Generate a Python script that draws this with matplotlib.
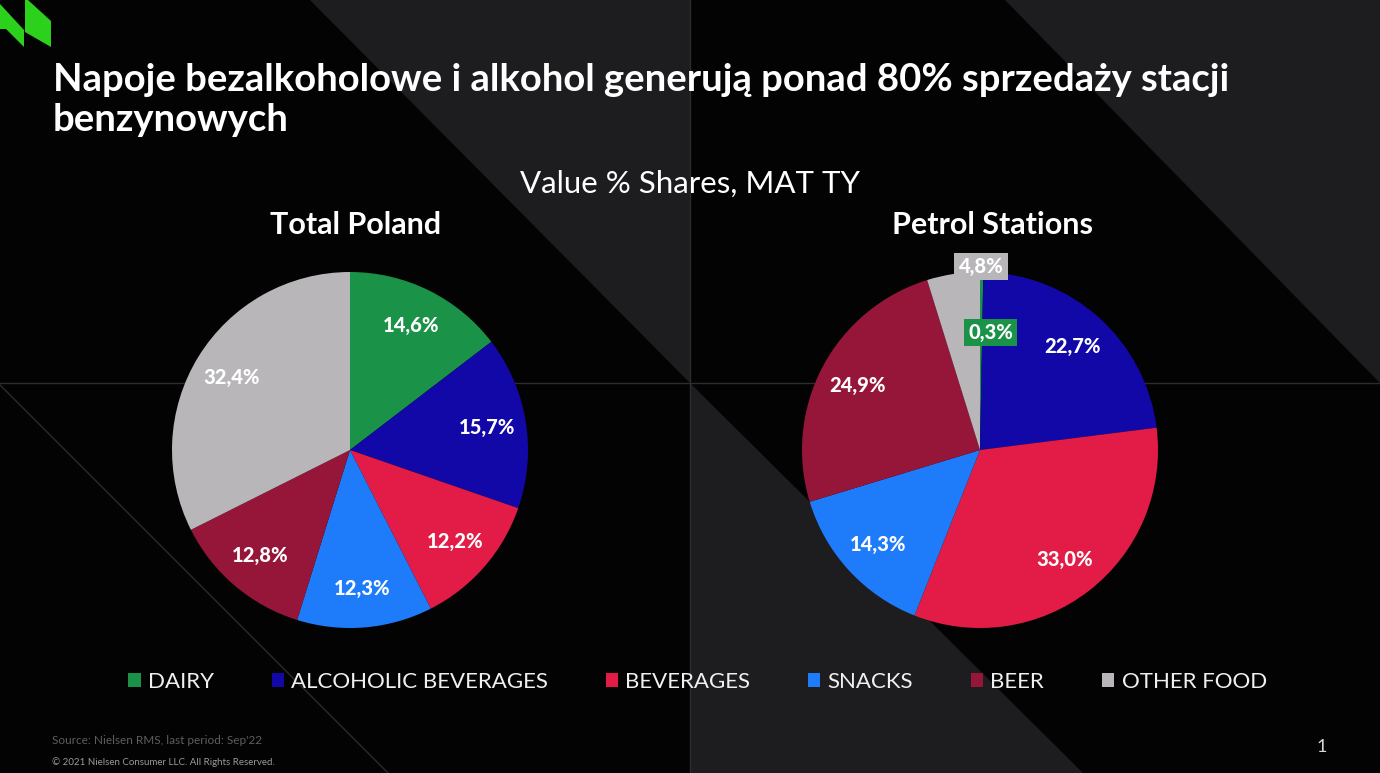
import matplotlib.pyplot as plt
from matplotlib.patches import Polygon, Patch

plt.rcParams['font.family'] = ['Lato', 'DejaVu Sans']

categories = ['DAIRY', 'ALCOHOLIC BEVERAGES', 'BEVERAGES', 'SNACKS', 'BEER', 'OTHER FOOD']
colors = ['#1a9247', '#1208a8', '#e31c47', '#1e7bf9', '#96163a', '#b8b6b9']
total_poland = [14.6, 15.7, 12.2, 12.3, 12.8, 32.4]
petrol_stations = [0.3, 22.7, 33.0, 14.3, 24.9, 4.8]

title = 'Napoje bezalkoholowe i alkohol generują ponad 80% sprzedaży stacji\nbenzynowych'
subtitle = 'Value % Shares, MAT TY'
pie_titles = ['Total Poland', 'Petrol Stations']

W, H = 1380, 773
fig = plt.figure(figsize=(W / 100, H / 100), dpi=100, facecolor='#030303')

# фон: серые треугольники и тонкие линии, в пикселях
bg = fig.add_axes([0, 0, 1, 1])
bg.set_xlim(0, W)
bg.set_ylim(H, 0)
bg.axis('off')
grey = '#1d1c1f'
line_c = '#2c2b2e'
for pts in [[(310, 0), (690, 0), (690, 383)],
            [(1005, 0), (W, 0), (W, 383)],
            [(690, 383), (690, H), (1083, H)]]:
    bg.add_patch(Polygon(pts, closed=True, facecolor=grey, edgecolor='none'))
bg.plot([0, W], [383, 383], color=line_c, lw=1)
bg.plot([690, 690], [0, H], color=line_c, lw=1)
bg.plot([0, 388], [385, H], color=line_c, lw=1)

# логотип
logo_c = '#2bd11a'
bg.add_patch(Polygon([(0, 4), (24, 30), (24, 47), (6, 29), (0, 29)], facecolor=logo_c))
bg.add_patch(Polygon([(25, 0), (28, 0), (51, 21), (51, 47), (25, 32)], facecolor=logo_c))

bg.text(53, 131, title, color='white', fontsize=27.5, fontweight='bold',
        va='baseline', linespacing=1.2)
bg.text(690, 193, subtitle, color='white', fontsize=22.5, ha='center', va='baseline')

R = 178
centers = [(350, 450), (980, 450)]
title_x = [356, 992]
datasets = [total_poland, petrol_stations]


def pct(p):
    return f'{p:.1f}%'.replace('.', ',')


for (cx, cy), tx, vals, name in zip(centers, title_x, datasets, pie_titles):
    ax = fig.add_axes([(cx - R) / W, (H - cy - R) / H, 2 * R / W, 2 * R / H])
    wedges, texts = ax.pie(vals, colors=colors, startangle=90, counterclock=False,
                           labels=[pct(v) for v in vals], labeldistance=0.78,
                           textprops=dict(color='white', fontsize=14.5,
                                          fontweight='black', ha='center', va='center'))
    ax.set_xlim(-1, 1)
    ax.set_ylim(-1, 1)
    ax.set_facecolor('none')
    bg.text(tx, 234, name, color='white', fontsize=22, fontweight='bold',
            ha='center', va='baseline')
    if name == 'Petrol Stations':
        # маленькие доли подписаны в плашках
        texts[0].set_position((0.06, 0.66))
        texts[0].set_bbox(dict(facecolor=colors[0], edgecolor='none', pad=3))
        texts[5].set_position((0.006, 1.03))
        texts[5].set_bbox(dict(facecolor=colors[5], edgecolor='none', pad=3))

handles = [Patch(facecolor=c, edgecolor='none') for c in colors]
leg = fig.legend(handles, categories, loc='center', bbox_to_anchor=(0.5055, 1 - 682 / H),
                 ncol=6, frameon=False, fontsize=16, handlelength=0.55,
                 handleheight=0.55, handletextpad=0.32, columnspacing=2.61)
for t in leg.get_texts():
    t.set_color('#f0f0f0')

bg.text(52, 744, "Source: Nielsen RMS, last period: Sep'22", color='#5e5e5e',
        fontsize=8.5, va='baseline')
bg.text(52, 765, '© 2021 Nielsen Consumer LLC. All Rights Reserved.', color='#9a9a9a',
        fontsize=7, va='baseline')
bg.text(1322, 752, '1', color='#d8d8d8', fontsize=13, ha='center', va='baseline')

fig.savefig('out.png', dpi=100, facecolor=fig.get_facecolor())
